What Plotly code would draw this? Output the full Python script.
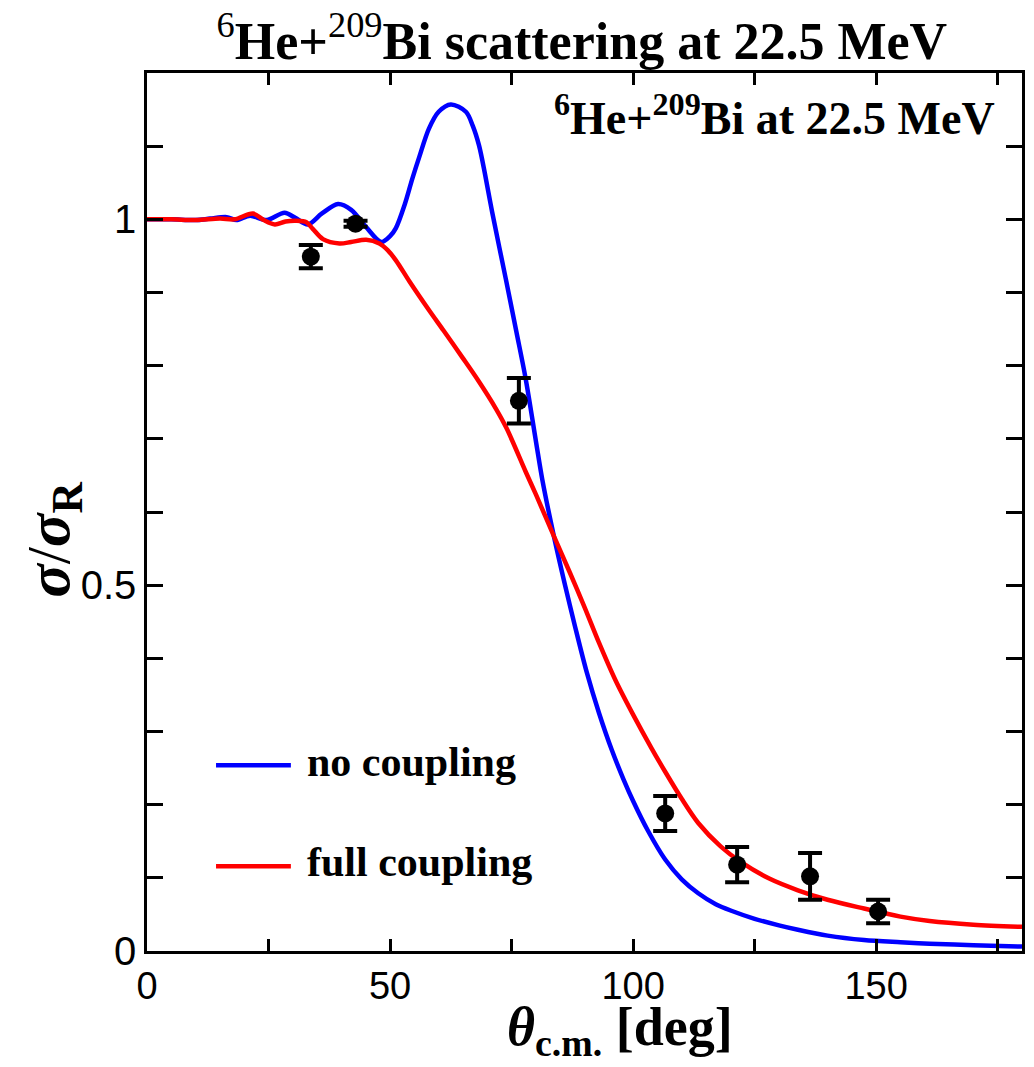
import plotly.graph_objects as go

# ---- data ----
theta_no = [0, 5, 10, 13, 16.4, 18.4, 21.2, 24.6, 28.3, 30.5, 33.1, 36, 39.3, 42, 45, 48.2,
            50, 51.2, 53, 54.6, 56, 58, 60, 62.5, 65.6, 67, 68.3, 69.5, 71, 73.8, 76, 77.9,
            80, 81.3, 83.7, 86, 88, 90.5, 93, 95.6, 98, 100, 103, 106.6, 110, 113.4, 117,
            120.2, 125, 130, 133.9, 140, 147.5, 155, 161, 170, 180]
sig_no = [1.0, 1.0, 0.999, 1.001, 1.003, 0.999, 1.005, 0.999, 1.009, 1.002, 0.993, 1.008,
          1.021, 1.013, 0.990, 0.969, 0.977, 0.988, 1.020, 1.056, 1.085, 1.124, 1.147, 1.157,
          1.147, 1.128, 1.101, 1.063, 1.010, 0.919, 0.846, 0.782, 0.697, 0.645, 0.567, 0.500,
          0.445, 0.380, 0.325, 0.275, 0.235, 0.205, 0.165, 0.125, 0.098, 0.079, 0.064, 0.055,
          0.044, 0.035, 0.029, 0.021, 0.015, 0.012, 0.010, 0.008, 0.006]

theta_full = [0, 5, 10, 15, 18, 21.8, 24, 26.3, 28.5, 30.7, 32.8, 34.1, 36.2, 39.6, 42, 45.1,
              47.8, 49.5, 51.2, 54, 58.1, 61, 64.9, 68, 71.7, 74, 77.9, 80, 83.7, 87, 90, 93,
              96.3, 100, 103.8, 106.6, 110, 113.4, 118, 122.3, 128, 133.9, 140, 147.5, 155,
              161, 170, 180]
sig_full = [1.0, 1.0, 0.999, 1.001, 1.0, 1.008, 0.999, 0.993, 0.997, 0.998, 0.996, 0.987,
            0.973, 0.967, 0.969, 0.972, 0.967, 0.958, 0.944, 0.915, 0.875, 0.848, 0.811, 0.781,
            0.742, 0.714, 0.655, 0.624, 0.567, 0.517, 0.470, 0.421, 0.371, 0.323, 0.277, 0.245,
            0.208, 0.175, 0.143, 0.121, 0.099, 0.083, 0.070, 0.058, 0.047, 0.041, 0.036, 0.033]

exp_theta = [33.7, 42.9, 76.5, 106.6, 121.4, 136.4, 150.4]
exp_sig = [0.949, 0.994, 0.752, 0.188, 0.118, 0.102, 0.054]
exp_err = [0.016, 0.004, 0.031, 0.024, 0.024, 0.032, 0.016]

x_tickvals = [0, 25, 50, 75, 100, 125, 150, 175]
x_ticktext = ["0", "", "50", "", "100", "", "150", ""]
y_tickvals = [0, 0.1, 0.2, 0.3, 0.4, 0.5, 0.6, 0.7, 0.8, 0.9, 1.0, 1.1]
y_ticktext = ["0", "", "", "", "", "0.5", "", "", "", "", "1", ""]

SERIF = "Liberation Serif"
SANS = "Liberation Sans"

fig = go.Figure()
fig.add_trace(go.Scatter(x=theta_no, y=sig_no, mode="lines", name="no coupling",
                         line=dict(color="#0000ff", width=4.5, shape="spline", smoothing=0.9)))
fig.add_trace(go.Scatter(x=theta_full, y=sig_full, mode="lines", name="full coupling",
                         line=dict(color="#ff0000", width=4.5, shape="spline", smoothing=0.9)))
fig.add_trace(go.Scatter(x=exp_theta, y=exp_sig, mode="markers", name="data",
                         marker=dict(color="black", size=18),
                         error_y=dict(type="data", array=exp_err, color="black",
                                      thickness=4, width=12)))

# manual legend
fig.add_shape(type="line", x0=14.2, x1=29.6, y0=0.254, y1=0.254, xref="x", yref="y",
              line=dict(color="#0000ff", width=4.5))
fig.add_shape(type="line", x0=14.2, x1=29.6, y0=0.116, y1=0.116, xref="x", yref="y",
              line=dict(color="#ff0000", width=4.5))
fig.add_annotation(x=32.4, y=0.259, xref="x", yref="y", text="<b>no coupling</b>",
                   showarrow=False, xanchor="left", yanchor="middle",
                   font=dict(family=SERIF, size=42, color="black"))
fig.add_annotation(x=32.4, y=0.121, xref="x", yref="y", text="<b>full coupling</b>",
                   showarrow=False, xanchor="left", yanchor="middle",
                   font=dict(family=SERIF, size=42, color="black"))

# inner label
fig.add_annotation(x=174.9, y=1.143, xref="x", yref="y",
                   text="<b><sup>6</sup>He+<sup>209</sup>Bi at 22.5 MeV</b>",
                   showarrow=False, xanchor="right", yanchor="middle",
                   font=dict(family=SERIF, size=46, color="black"))

# axis titles
fig.add_annotation(x=-0.108, y=0.468, xref="paper", yref="paper",
                   text="<b><i>σ</i></b>/<b><i>σ</i><sub>R</sub></b>",
                   showarrow=False, textangle=-90, xanchor="center", yanchor="middle",
                   font=dict(family=SERIF, size=62, color="black"))
fig.add_annotation(x=0.541, y=-0.1308, xref="paper", yref="paper",
                   text="<b><i>θ</i><sub>c.m.</sub> [deg]</b>",
                   showarrow=False, xanchor="center", yanchor="bottom",
                   font=dict(family=SERIF, size=54, color="black"))

fig.update_layout(
    width=1034, height=1067,
    margin=dict(l=147, r=9, t=73, b=116),
    paper_bgcolor="white", plot_bgcolor="white",
    showlegend=False,
    title=dict(text="<sup>6</sup><b>He+</b><sup>209</sup><b>Bi scattering at 22.5 MeV</b>",
               x=0.497, xref="paper", xanchor="center",
               y=0.962, yref="container", yanchor="middle",
               font=dict(family=SERIF, size=52, color="black")),
)
fig.update_xaxes(range=[0, 180], tickvals=x_tickvals, ticktext=x_ticktext,
                 ticks="inside", ticklen=12, tickwidth=2.5, tickcolor="black",
                 showline=True, linewidth=2.5, linecolor="black", mirror="ticks",
                 showgrid=False, zeroline=False,
                 tickfont=dict(family=SANS, size=38, color="black"))
fig.update_yaxes(range=[0, 1.2], tickvals=y_tickvals, ticktext=y_ticktext,
                 ticks="inside", ticklen=16, tickwidth=2.5, tickcolor="black",
                 showline=True, linewidth=2.5, linecolor="black", mirror="ticks",
                 showgrid=False, zeroline=False,
                 tickfont=dict(family=SANS, size=40, color="black"))

fig.write_html("out.html")
